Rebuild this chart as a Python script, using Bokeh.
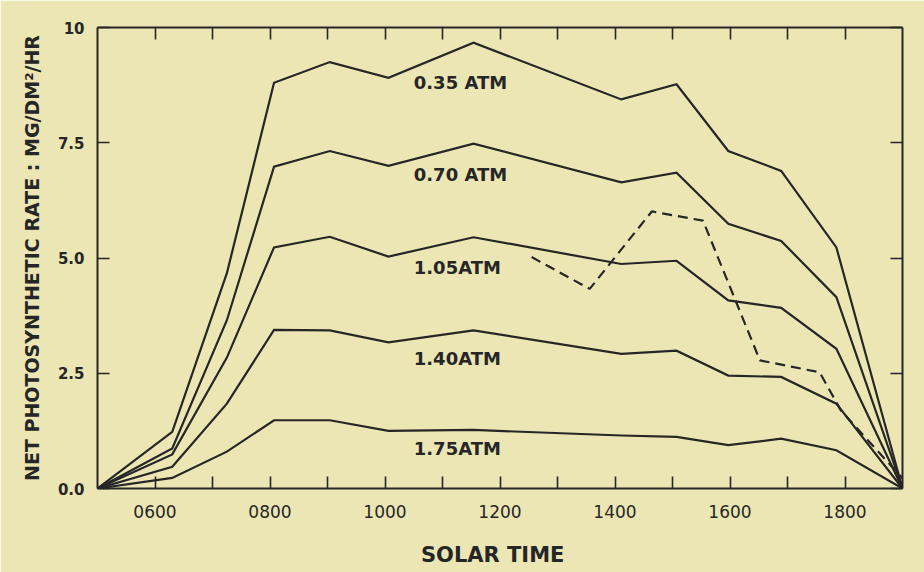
from bokeh.plotting import figure
from bokeh.models import Range1d, LinearAxis, FixedTicker, ColumnDataSource
from bokeh.core.properties import value
from bokeh.embed import file_html
from bokeh.resources import INLINE

# Solar time in decimal hours for each reading
TIMES = [5.0, 6.3, 7.25, 8.07, 9.04, 10.06, 11.54, 14.11, 15.07, 15.97, 16.89, 17.85, 19.0]

# Net photosynthetic rate (mg/dm^2/hr) at each oxygen pressure
RATE_035 = [0.0, 1.23, 4.67, 8.80, 9.25, 8.91, 9.67, 8.44, 8.77, 7.32, 6.89, 5.23, 0.0]
RATE_070 = [0.0, 0.87, 3.65, 6.98, 7.32, 7.00, 7.48, 6.64, 6.85, 5.74, 5.37, 4.15, 0.0]
RATE_105 = [0.0, 0.74, 2.84, 5.23, 5.46, 5.03, 5.45, 4.87, 4.94, 4.08, 3.92, 3.03, 0.0]
RATE_140 = [0.0, 0.47, 1.84, 3.44, 3.43, 3.17, 3.43, 2.92, 2.99, 2.45, 2.42, 1.84, 0.0]
RATE_175 = [0.0, 0.23, 0.80, 1.48, 1.48, 1.25, 1.27, 1.15, 1.12, 0.94, 1.08, 0.83, 0.0]

# Afternoon run drawn dashed
DASH_TIMES = [12.55, 13.56, 14.64, 15.53, 16.52, 17.56, 17.93, 19.0, 19.4]
DASH_RATE = [5.02, 4.33, 6.01, 5.81, 2.78, 2.52, 1.69, 0.22, -0.08]

SERIES_LABELS = ["0.35 ATM", "0.70 ATM", "1.05ATM", "1.40ATM", "1.75ATM"]
LABEL_X = [10.5, 10.5, 10.5, 10.5, 10.5]
LABEL_Y = [8.80, 6.82, 4.80, 2.81, 0.86]

X_TICKS = [6, 8, 10, 12, 14, 16, 18]
X_MINOR = [7, 9, 11, 13, 15, 17]
X_TICK_LABELS = ["0600", "0800", "1000", "1200", "1400", "1600", "1800"]
Y_TICKS = [0, 2.5, 5, 7.5, 10]
Y_TICK_LABELS = ["0.0", "2.5", "5.0", "7.5", "10"]

BG = "#ece6b4"
INK = "#262626"
FONT = "DejaVu Sans"

p = figure(width=924, height=572, x_range=Range1d(5, 19), y_range=Range1d(0, 10),
           output_backend="svg", toolbar_location=None,
           min_border_left=97, min_border_right=22, min_border_top=27, min_border_bottom=84,
           background_fill_color=BG, border_fill_color=BG, outline_line_color=None)
p.grid.visible = False

x_ticker = FixedTicker(ticks=X_TICKS, minor_ticks=X_MINOR)
y_ticker = FixedTicker(ticks=Y_TICKS)


def style_axis(ax, ticker, show_labels):
    ax.ticker = ticker
    ax.axis_line_color = INK
    ax.axis_line_width = 2
    ax.major_tick_line_color = INK
    ax.major_tick_line_width = 1.6
    ax.minor_tick_line_color = INK
    ax.minor_tick_line_width = 1.6
    ax.major_tick_in = 12
    ax.major_tick_out = 0
    ax.minor_tick_in = 12
    ax.minor_tick_out = 0
    if not show_labels:
        ax.major_label_text_color = None


xb = p.xaxis[0]
style_axis(xb, x_ticker, True)
xb.major_label_overrides = {t: s for t, s in zip(X_TICKS, X_TICK_LABELS)}
xb.major_label_text_font = FONT
xb.major_label_text_font_size = "17px"
xb.major_label_text_color = INK
xb.major_label_standoff = 16
xb.axis_label = "SOLAR   TIME"
xb.axis_label_text_font = FONT
xb.axis_label_text_font_style = "bold"
xb.axis_label_text_font_size = "21px"
xb.axis_label_text_color = INK
xb.axis_label_standoff = 22

yl = p.yaxis[0]
style_axis(yl, y_ticker, True)
yl.major_label_overrides = {t: s for t, s in zip(Y_TICKS, Y_TICK_LABELS)}
yl.major_label_text_font = FONT
yl.major_label_text_font_style = "bold"
yl.major_label_text_font_size = "15px"
yl.major_label_text_color = INK
yl.major_label_standoff = 13
yl.axis_label = "NET PHOTOSYNTHETIC RATE : MG/DM\u00b2/HR"
yl.axis_label_text_font = FONT
yl.axis_label_text_font_style = "bold"
yl.axis_label_text_font_size = "19px"
yl.axis_label_text_color = INK
yl.axis_label_standoff = 12

top = LinearAxis()
style_axis(top, x_ticker, False)
p.add_layout(top, "above")

right = LinearAxis()
style_axis(right, y_ticker, False)
p.add_layout(right, "right")

for rates in [RATE_035, RATE_070, RATE_105, RATE_140, RATE_175]:
    p.line(TIMES, rates, line_color=INK, line_width=2.2, line_join="miter")

p.line(DASH_TIMES, DASH_RATE, line_color=INK, line_width=2.2, line_dash="10 6")

labels = ColumnDataSource(dict(x=LABEL_X, y=LABEL_Y, text=SERIES_LABELS))
p.text(x="x", y="y", text="text", source=labels, text_font=value(FONT),
       text_font_style="bold", text_font_size="18px", text_color=INK,
       text_align="left", text_baseline="middle")

open("out.html", "w").write(file_html(p, INLINE))
